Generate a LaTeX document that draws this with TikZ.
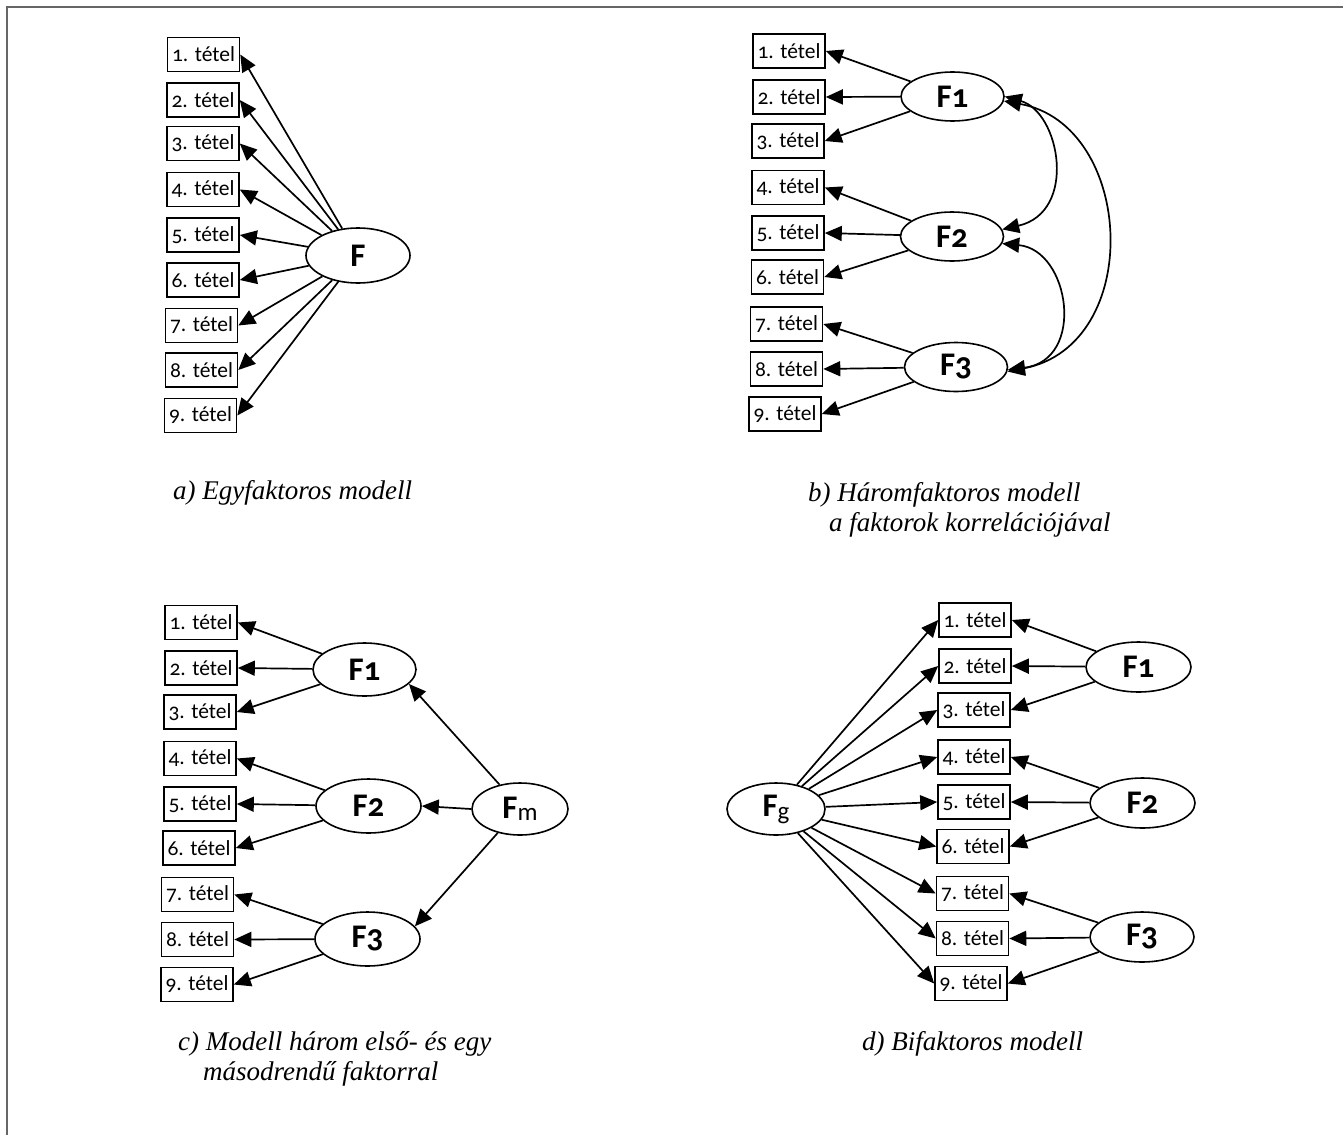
\documentclass[tikz,border=0pt]{standalone}
\usepackage{fontspec}
\usetikzlibrary{arrows.meta,shapes.geometric}
\newfontfamily\itemfont[Numbers=OldStyle]{Carlito}
\newfontfamily\capfont{Liberation Serif}
\definecolor{framegray}{HTML}{666666}
\tikzset{
  itembox/.style={draw, line width=1.6pt, minimum width=72pt, minimum height=34pt, inner sep=0pt,
    font=\itemfont\fontsize{21.5}{21.5}\selectfont},
  facnode/.style={draw, ellipse, line width=1.6pt, inner sep=0pt, minimum width=104pt, minimum height=51pt,
    font=\itemfont\bfseries\fontsize{33}{33}\selectfont},
  loadarrow/.style={line width=1.7pt, -{Triangle[length=17pt,width=15pt]}},
  corarrow/.style={line width=1.7pt, {Triangle[length=17pt,width=15pt]}-{Triangle[length=17pt,width=15pt]}},
  captext/.style={anchor=base west, inner sep=0pt, font=\capfont\itshape\fontsize{27}{30}\selectfont},
  frameline/.style={draw=framegray, line width=2pt},
}
\begin{document}
\begin{tikzpicture}[x=1pt,y=-1pt]
\useasboundingbox (0,0) rectangle (1343,1135);
\draw[frameline] (7,1135) -- (7,7) -- (1343,7);

% ---------- a) ----------
\foreach \i/\x/\y in {1/203.5/54.5, 2/203/100, 3/203/143.5, 4/203/189.5, 5/203/235,
                      6/203/280, 7/201.5/325.5, 8/201.5/370, 9/200.5/415.5}
  \node[itembox] (a\i) at (\x,\y) {\i. tétel};
\node[facnode, minimum height=55pt] (FA) at (358,255.5) {F};
\foreach \i in {1,...,9} \draw[loadarrow] (FA) -- (a\i.east);
\node[captext] (capa) at (173,499) {a) Egyfaktoros modell};

% ---------- b) ----------
\foreach \i/\x/\y in {1/789/51, 2/789/97, 3/788/141, 4/788/187.5, 5/788/233,
                      6/787.5/277, 7/786.5/324, 8/786.5/369, 9/785/414}
  \node[itembox] (b\i) at (\x,\y) {\i. tétel};
\node[facnode, minimum width=103pt, minimum height=49pt] (B1) at (952.5,96.5) {F1};
\node[facnode, minimum width=103pt, minimum height=49pt] (B2) at (952,236.5) {F2};
\node[facnode, minimum width=103pt, minimum height=49pt] (B3) at (956,367) {F3};
\foreach \i in {1,2,3} \draw[loadarrow] (B1) -- (b\i.east);
\foreach \i in {4,5,6} \draw[loadarrow] (B2) -- (b\i.east);
\foreach \i in {7,8,9} \draw[loadarrow] (B3) -- (b\i.east);
\draw[corarrow] (B1.east) .. controls (1060,112) and (1078,212) .. (B2.8);
\draw[corarrow] (B2.-8) .. controls (1070,250) and (1086,360) .. (B3.-3);
\draw[corarrow] (B1.-5) .. controls (1135,125) and (1145,345) .. (B3.-5);
\node[captext] (capb1) at (808,501) {b) Háromfaktoros modell};
\node[captext] (capb2) at (829,531) {a faktorok korrelációjával};

% ---------- c) ----------
\foreach \i/\x/\y in {1/201/622.5, 2/201/668, 3/200/712, 4/200/758.5, 5/200/804,
                      6/199/848, 7/197.5/894.5, 8/197.5/939.5, 9/197/984.5}
  \node[itembox] (c\i) at (\x,\y) {\i. tétel};
\node[facnode, minimum width=103pt, minimum height=53pt] (C1) at (364.5,669.5) {F1};
\node[facnode, minimum width=105pt, minimum height=54pt] (C2) at (368.5,806) {F2};
\node[facnode, minimum width=105pt, minimum height=54pt] (C3) at (367.5,939) {F3};
\node[facnode, minimum width=96pt, minimum height=52pt] (CM) at (520,809)
  {F{\fontsize{25}{25}\selectfont\mdseries\raisebox{-2pt}{m}}};
\foreach \i in {1,2,3} \draw[loadarrow] (C1) -- (c\i.east);
\foreach \i in {4,5,6} \draw[loadarrow] (C2) -- (c\i.east);
\foreach \i in {7,8,9} \draw[loadarrow] (C3) -- (c\i.east);
\draw[loadarrow] (CM.130) -- (C1.-18);
\draw[loadarrow] (CM.west) -- (C2.east);
\draw[loadarrow] (CM.-133) -- (C3.15);
\node[captext] (capc1) at (178,1050) {c) Modell három első- és egy};
\node[captext] (capc2) at (203,1080) {másodrendű faktorral};

% ---------- d) ----------
\foreach \i/\x/\y in {1/975/620, 2/975/666, 3/974/710, 4/974/757, 5/974/802,
                      6/973/846.5, 7/972.5/893.5, 8/972.5/938.5, 9/971/983.5}
  \node[itembox] (d\i) at (\x,\y) {\i. tétel};
\node[facnode, minimum width=98pt, minimum height=52pt] (DG) at (776,809)
  {F{\fontsize{25}{25}\selectfont\mdseries\raisebox{-3pt}{g}}};
\node[facnode, minimum width=105pt, minimum height=50pt] (D1) at (1138.5,667) {F1};
\node[facnode, minimum width=105pt, minimum height=50pt] (D2) at (1142.5,803) {F2};
\node[facnode, minimum width=104pt, minimum height=50pt] (D3) at (1142,937) {F3};
\foreach \i in {1,...,9} \draw[loadarrow] (DG) -- (d\i.west);
\foreach \i in {1,2,3} \draw[loadarrow] (D1) -- (d\i.east);
\foreach \i in {4,5,6} \draw[loadarrow] (D2) -- (d\i.east);
\foreach \i in {7,8,9} \draw[loadarrow] (D3) -- (d\i.east);
\node[captext] (capd) at (862,1050) {d) Bifaktoros modell};
\end{tikzpicture}
\end{document}
